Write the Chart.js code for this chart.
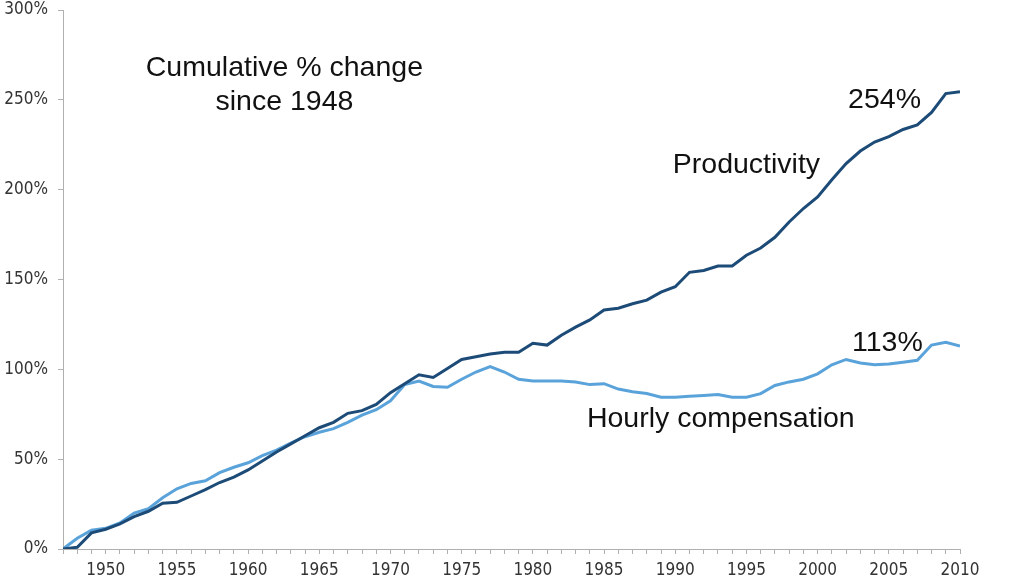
<!DOCTYPE html>
<html>
<head>
<meta charset="utf-8">
<script src="https://cdn.jsdelivr.net/npm/chart.js@4.4.0/dist/chart.umd.min.js"></script>
<style>
  html, body { margin: 0; padding: 0; background: #fff; }
  #wrap { width: 1024px; height: 581px; position: relative; }
</style>
</head>
<body>
<div id="wrap"><canvas id="chart"></canvas></div>
<script>
const years = [];
for (let y = 1947; y <= 2010; y++) years.push(y);

const productivity = [
  0, 1, 9, 11, 14, 18, 21, 25.5, 26, 29.5,
  33, 37, 40, 44, 49, 54, 58.5, 63, 67.5, 70.5,
  75.5, 77, 80.5, 87, 92, 97, 95.5, 100.5, 105.5, 107,
  108.5, 109.5, 109.5, 114.5, 113.5, 119, 123.5, 127.5, 133, 134,
  136.5, 138.5, 143, 146, 154, 155, 157.5, 157.5, 163.5, 167.5,
  173.5, 182, 189.5, 196, 205.5, 214.5, 221.5, 226.5, 229.5, 233.5,
  236, 243, 253.5, 254.5
];

const compensation = [
  0, 6, 10.5, 11.5, 14.5, 20, 22.5, 28.5, 33.5, 36.5,
  38, 42.5, 45.5, 48, 52, 55, 59, 62.5, 65, 67,
  70.5, 74.5, 77.5, 82.5, 91.5, 93.5, 90.5, 90, 94.5, 98.5,
  101.5, 98.5, 94.5, 93.5, 93.5, 93.5, 93, 91.5, 92, 89,
  87.5, 86.5, 84.5, 84.5, 85, 85.5, 86, 84.5, 84.5, 86.5,
  91, 93, 94.5, 97.5, 102.5, 105.5, 103.5, 102.5, 103, 104,
  105, 113.5, 115, 113
];

// text notes placed in data coordinates [year, value]
const notes = [
  { text: 'Cumulative % change', x: 1962.55, y: 267.5 },
  { text: 'since 1948', x: 1962.55, y: 248.5 },
  { text: 'Productivity', x: 1995.0, y: 213.8 },
  { text: '254%', x: 2004.7, y: 250 },
  { text: '113%', x: 2004.9, y: 114.7 },
  { text: 'Hourly compensation', x: 1993.2, y: 72.4 }
];

const notesPlugin = {
  id: 'notes',
  afterDraw(c) {
    const ctx = c.ctx;
    const xs = c.scales.x, ys = c.scales.y;
    ctx.save();
    ctx.fillStyle = '#111';
    ctx.font = '28.5px "Liberation Sans", Arial, sans-serif';
    ctx.textAlign = 'center';
    ctx.textBaseline = 'middle';
    notes.forEach(n => {
      ctx.fillText(n.text, xs.getPixelForValue(n.x), ys.getPixelForValue(n.y));
    });
    ctx.restore();
  }
};

const tickFont = { family: '"DejaVu Sans Condensed", "DejaVu Sans", sans-serif', size: 17 };

new Chart(document.getElementById('chart'), {
  type: 'line',
  data: {
    datasets: [
      {
        label: 'Productivity',
        data: years.map((y, i) => ({ x: y, y: productivity[i] })),
        borderColor: '#1d4b78',
        borderWidth: 3,
        pointRadius: 0,
        tension: 0
      },
      {
        label: 'Hourly compensation',
        data: years.map((y, i) => ({ x: y, y: compensation[i] })),
        borderColor: '#5aa3da',
        borderWidth: 3,
        pointRadius: 0,
        tension: 0
      }
    ]
  },
  options: {
    responsive: true,
    maintainAspectRatio: false,
    animation: false,
    layout: { padding: { top: 0, right: 64, left: 0, bottom: 0 } },
    plugins: {
      legend: { display: false },
      tooltip: { enabled: false }
    },
    scales: {
      x: {
        type: 'linear',
        min: 1947,
        max: 2010,
        afterFit(s) { s.height = 32; },
        grid: {
          drawOnChartArea: false,
          drawTicks: true,
          tickLength: 5,
          tickColor: '#b0b0b0'
        },
        border: { color: '#b0b0b0', width: 1 },
        ticks: {
          stepSize: 1,
          autoSkip: false,
          maxRotation: 0,
          padding: 6,
          color: '#333',
          font: tickFont,
          callback: v => (v % 5 === 0 && v >= 1950) ? String(v) : ''
        }
      },
      y: {
        min: 0,
        max: 300,
        afterFit(s) { s.width = 63; s.paddingTop = 10; },
        grid: {
          drawOnChartArea: false,
          drawTicks: true,
          tickLength: 5,
          tickColor: '#b0b0b0'
        },
        border: { color: '#b0b0b0', width: 1 },
        ticks: {
          stepSize: 50,
          padding: 10,
          color: '#333',
          font: tickFont,
          callback: v => v + '%'
        }
      }
    }
  },
  plugins: [notesPlugin]
});
</script>
</body>
</html>
